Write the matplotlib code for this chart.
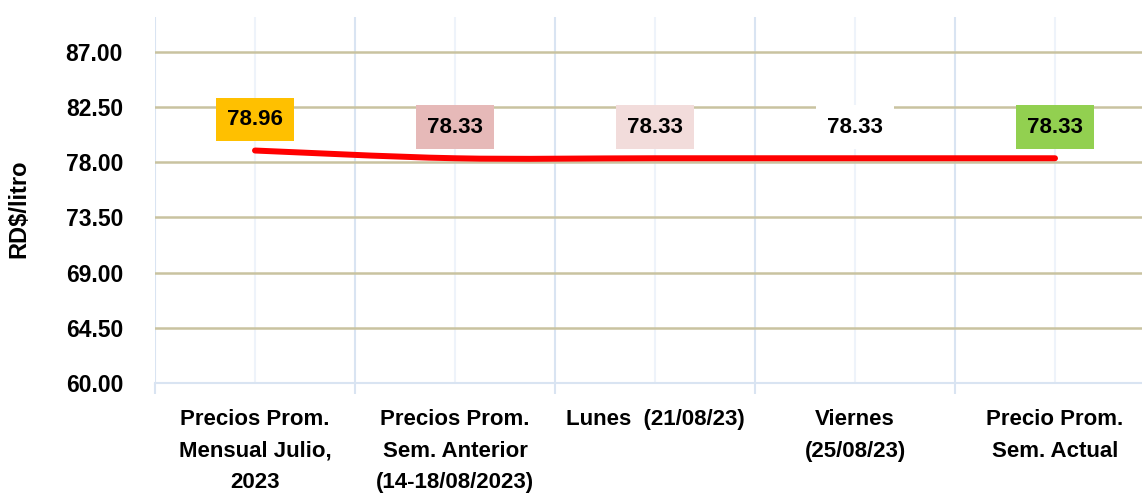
import numpy as np
import matplotlib.pyplot as plt
from matplotlib.path import Path
from matplotlib.patches import PathPatch

categories = ["Precios Prom.\nMensual Julio,\n2023",
              "Precios Prom.\nSem. Anterior\n(14-18/08/2023)",
              "Lunes  (21/08/23)",
              "Viernes\n(25/08/23)",
              "Precio Prom.\nSem. Actual"]
prices = [78.96, 78.33, 78.33, 78.33, 78.33]
label_colors = ["#FFC000", "#E6B9B8", "#F2DCDB", "#FFFFFF", "#92D050"]
yticks = [60.0, 64.5, 69.0, 73.5, 78.0, 82.5, 87.0]

plt.rcParams['font.family'] = ['Liberation Sans', 'DejaVu Sans']
plt.rcParams['font.weight'] = 'bold'

fig = plt.figure(figsize=(11.42, 4.98), dpi=100)
ax = fig.add_axes([155/1142, (498-383)/498, 1000/1142, (383-17)/498])

x = np.arange(len(prices))
y = np.array(prices)

# smoothed line (Catmull-Rom -> cubic Bezier), like Excel "smoothed line"
verts = [(x[0], y[0])]
codes = [Path.MOVETO]
for i in range(len(x) - 1):
    p0 = np.array([x[max(i-1, 0)], y[max(i-1, 0)]])
    p1 = np.array([x[i], y[i]])
    p2 = np.array([x[i+1], y[i+1]])
    p3 = np.array([x[min(i+2, len(x)-1)], y[min(i+2, len(x)-1)]])
    c1 = p1 + (p2 - p0) / 6
    c2 = p2 - (p3 - p1) / 6
    verts += [tuple(c1), tuple(c2), tuple(p2)]
    codes += [Path.CURVE4] * 3
ax.add_patch(PathPatch(Path(verts, codes), fill=False, edgecolor="#FF0000",
                       lw=4.3, capstyle="round", zorder=4))

for xi, yi, c in zip(x, y, label_colors):
    ax.annotate(f"{yi:.2f}", (xi, yi), xytext=(0, 22.5), textcoords="offset points",
                ha="center", va="center", fontsize=16, fontweight="bold",
                bbox=dict(boxstyle="square,pad=0.5", fc=c, ec="none"), zorder=5)

ax.set_xlim(-0.5, len(prices) - 0.5)
ax.set_ylim(60, 89.85)
ax.set_yticks(yticks)
ax.set_yticklabels([f"{v:.2f}" for v in yticks], fontsize=16.5, fontweight="bold")

# horizontal gridlines
for v in yticks[1:]:
    ax.axhline(v, color="#C9C3A0", lw=1.8, zorder=1)

# vertical gridlines: boundaries and category centers
ax.set_xticks(np.arange(-0.5, len(prices)), minor=False)
ax.set_xticklabels([])
ax.set_xticks(x, minor=True)
ax.set_xticklabels(categories, minor=True, fontsize=16, fontweight="bold",
                   linespacing=1.65)
ax.tick_params(axis="x", which="major", length=8, color="#D9E4F2", width=1.5)
ax.tick_params(axis="x", which="minor", length=0, pad=19)
ax.tick_params(axis="y", length=0, pad=23)
for b in np.arange(-0.5, len(prices)):
    ax.axvline(b, color="#D9E4F2", lw=1.5, zorder=0.5)
for c in x:
    ax.axvline(c, color="#EEF3FA", lw=1.5, zorder=0.5)

for s in ["top", "right", "left"]:
    ax.spines[s].set_visible(False)
ax.spines["bottom"].set_color("#D9E4F2")
ax.spines["bottom"].set_linewidth(1.5)

fig.text(19/1142, 1 - 209/498, "RD$/litro", rotation=90, ha="center", va="center",
         fontsize=17, fontweight="bold")

fig.savefig("out.png", dpi=100)
